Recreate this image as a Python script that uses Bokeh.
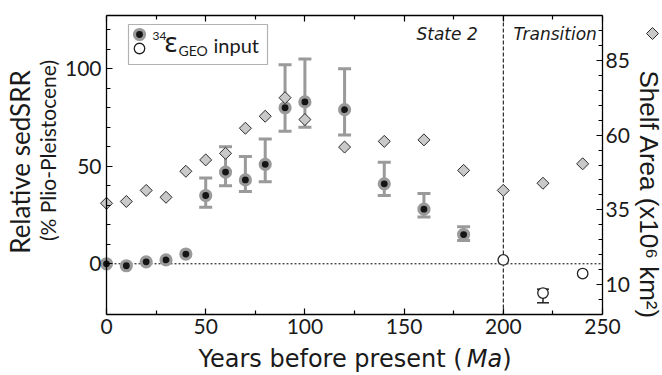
import math
from bokeh.plotting import figure
from bokeh.models import (Range1d, LinearAxis, FixedTicker, Whisker, TeeHead,
                          ColumnDataSource, Label, BoxAnnotation)
from bokeh.embed import file_html
from bokeh.resources import INLINE

# ---------------- data ----------------
sed_age = [0, 10, 20, 30, 40, 50, 60, 70, 80, 90, 100, 120, 140, 160, 180]
sed_srr = [0, -1, 1, 2, 5, 35, 47, 43, 51, 80, 83, 79, 41, 28, 15]

err_age = [50, 60, 70, 80, 90, 100, 120, 140, 160, 180]
err_lower = [29, 40, 37, 42, 68, 70, 66, 35, 24, 12]
err_upper = [44, 60, 55, 64, 102, 105, 100, 52, 36, 19]

geo_age = [200, 220, 240]
geo_srr = [2, -15, -5]
geo_err_age = [220]
geo_err_lower = [-20]
geo_err_upper = [-13]

shelf_age = [0, 10, 20, 30, 40, 50, 60, 70, 80, 90, 100, 120, 140, 160, 180, 200, 220, 240]
shelf_area = [37.2, 37.8, 41.5, 39.2, 47.9, 51.7, 53.9, 62.3, 66.3, 72.5, 65.2,
              56.0, 57.9, 58.4, 48.2, 41.5, 43.9, 50.4]

x_ticks = [0, 50, 100, 150, 200, 250]
x_minor = [25, 75, 125, 175, 225]
y_ticks = [0, 50, 100]
y_minor = [10, 20, 30, 40, 60, 70, 80, 90, 110, 120]
shelf_ticks = [10, 35, 60, 85]
shelf_minor = [5, 15, 20, 25, 30, 40, 45, 50, 55, 65, 70, 75, 80, 90, 95]

zero_level = 0
transition_age = 200

# data-area limits
X_LO, X_HI = 0, 250
Y_LO, Y_HI = -26, 127.3
S_LO, S_HI = 0, 100

# ---------------- layout (canvas px) ----------------
W, H = 662, 375
FL, FT, FW, FH = 106, 15, 496, 299   # data area on the canvas


def dx(px):
    return X_LO + (px - FL) / FW * (X_HI - X_LO)


def dy(py):
    return Y_LO + (FT + FH - py) / FH * (Y_HI - Y_LO)


def ds(py):
    return S_LO + (FT + FH - py) / FH * (S_HI - S_LO)


p = figure(width=W, height=H, output_backend="svg", toolbar_location=None,
           x_range=Range1d(dx(0), dx(W)), y_range=Range1d(dy(H), dy(0)),
           min_border=0, x_axis_location=None, y_axis_location=None)
p.extra_y_ranges = {"shelf": Range1d(ds(H), ds(0))}
p.grid.visible = False
p.outline_line_color = None
p.background_fill_color = "white"
p.border_fill_color = "white"

TICK_FONT = "Lato"


def style_axis(ax):
    ax.axis_line_color = "black"
    ax.axis_line_width = 1.3
    ax.major_tick_line_color = "black"
    ax.minor_tick_line_color = "black"
    ax.major_tick_line_width = 1.2
    ax.minor_tick_line_width = 1.2
    ax.major_tick_in = 6
    ax.major_tick_out = 0
    ax.minor_tick_in = 4
    ax.minor_tick_out = 0
    ax.major_label_text_font = TICK_FONT
    ax.major_label_text_font_size = "21px"
    ax.major_label_text_color = "#1a1a1a"


bottom = LinearAxis(ticker=FixedTicker(ticks=x_ticks, minor_ticks=x_minor),
                    fixed_location=Y_LO, bounds=(X_LO, X_HI))
style_axis(bottom)
bottom.major_label_standoff = 4
p.add_layout(bottom, "below")

top = LinearAxis(ticker=FixedTicker(ticks=x_ticks, minor_ticks=x_minor),
                 fixed_location=Y_HI, bounds=(X_LO, X_HI))
style_axis(top)
top.major_label_text_color = None
p.add_layout(top, "above")

left = LinearAxis(ticker=FixedTicker(ticks=y_ticks, minor_ticks=y_minor),
                  fixed_location=X_LO, bounds=(Y_LO, Y_HI))
style_axis(left)
left.major_label_standoff = 5
p.add_layout(left, "left")

right = LinearAxis(y_range_name="shelf",
                   ticker=FixedTicker(ticks=shelf_ticks, minor_ticks=shelf_minor),
                   fixed_location=X_HI, bounds=(S_LO, S_HI))
style_axis(right)
right.major_label_standoff = 3
p.add_layout(right, "right")

# error bars
GREY = "#9a9a9a"
err_src = ColumnDataSource(dict(base=err_age, lower=err_lower, upper=err_upper))
p.add_layout(Whisker(source=err_src, base="base", lower="lower", upper="upper",
                     line_color=GREY, line_width=3, level="underlay",
                     upper_head=TeeHead(size=13, line_color=GREY, line_width=3),
                     lower_head=TeeHead(size=13, line_color=GREY, line_width=3)))
geo_err_src = ColumnDataSource(dict(base=geo_err_age, lower=geo_err_lower, upper=geo_err_upper))
p.add_layout(Whisker(source=geo_err_src, base="base", lower="lower", upper="upper",
                     line_color="#222222", line_width=1.5, level="underlay",
                     upper_head=TeeHead(size=12, line_color="#222222", line_width=1.5),
                     lower_head=TeeHead(size=12, line_color="#222222", line_width=1.5)))

# legend box (drawn under glyphs)
p.add_layout(BoxAnnotation(left=dx(128), right=dx(267), top=dy(24), bottom=dy(64),
                           fill_color="white", fill_alpha=1.0, line_color="black",
                           line_width=1.2, level="underlay"))

# reference lines
p.segment(x0=[X_LO], y0=[zero_level], x1=[X_HI], y1=[zero_level],
          line_color="black", line_width=1, line_dash="2 2")
p.segment(x0=[transition_age], y0=[Y_LO], x1=[transition_age], y1=[Y_HI],
          line_color="black", line_width=1, line_dash="4 2")

# markers
SED = dict(size=10, fill_color="#151515", line_color=GREY, line_width=3.2)
GEO = dict(size=10.5, fill_color="white", line_color="#222222", line_width=1.3)
SHELF = dict(marker="square", angle=math.pi / 4, size=8.5, fill_color="#c9c9c9",
             line_color="#2a2a2a", line_width=1)
p.scatter(sed_age, sed_srr, **SED)
p.scatter(geo_age, geo_srr, **GEO)
p.scatter(shelf_age, shelf_area, y_range_name="shelf", **SHELF)

# legend markers
p.scatter([dx(139)], [dy(34)], **SED)
p.scatter([dx(139)], [dy(48)], **GEO)
p.scatter([dx(652)], [dy(33)], **SHELF)


def lab(px, py, text, font="Lato", size=20, style="normal", align="left",
        angle=0.0, color="#1a1a1a"):
    p.add_layout(Label(x=dx(px), y=dy(py), text=text, text_font=font,
                       text_font_size=f"{size}px", text_font_style=style,
                       text_align=align, text_baseline="middle", angle=angle,
                       text_color=color))


# legend texts (y = visual middle of the letters)
lab(152, 35.6, "34", size=12)
lab(164, 40.5, "ε", font="Noto Sans", size=27)
lab(178, 49.8, "GEO", size=14)
lab(213, 44.6, "input", size=20)

# region labels
lab(416, 33.7, "State 2", font="DejaVu Sans", size=17, style="italic")
lab(513, 33.7, "Transition", font="DejaVu Sans", size=17, style="italic")

# x axis title
XT = 24
XY = 358
lab(198, XY, "Years before present (", font="DejaVu Sans", size=XT)
x_split = 198 + 11.178 * XT
lab(x_split, XY, "Ma", font="DejaVu Sans", size=XT, style="italic")
lab(x_split + 1.476 * XT, XY, ")", font="DejaVu Sans", size=XT)

# left titles
lab(19.7, 161.5, "Relative sedSRR", size=26, align="center", angle=math.pi / 2)
lab(47, 150, "(% Plio-Pleistocene)", size=21, align="center", angle=math.pi / 2)

# right title
lab(648, 70, "Shelf Area (x10⁶ km²)", font="Liberation Sans", size=26,
    align="left", angle=-math.pi / 2)

open("out.html", "w").write(file_html(p, INLINE))
